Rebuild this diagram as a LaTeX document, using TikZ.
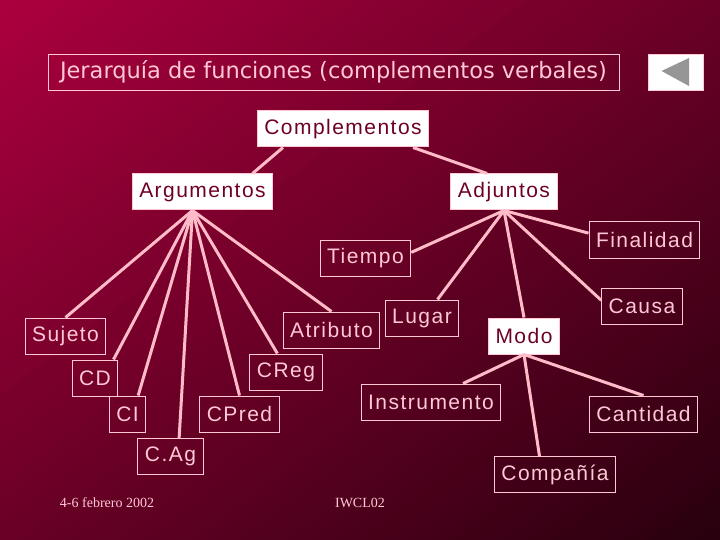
\documentclass[tikz,border=0pt]{standalone}
\usepackage{fontspec}
\setmainfont{Liberation Serif}
\newfontfamily\boxfont[LetterSpace=7]{Liberation Sans}
\newfontfamily\titlefont{DejaVu Sans}
\usetikzlibrary{positioning}
\definecolor{slidetop}{RGB}{172,0,62}
\definecolor{slidebot}{RGB}{40,0,14}
\definecolor{slidepink}{RGB}{255,200,212}
\definecolor{slideline}{RGB}{255,188,200}
\definecolor{slidewine}{RGB}{110,0,40}
\definecolor{slidegray}{RGB}{150,150,150}

\begin{document}
\begin{tikzpicture}[
  x=1pt,y=-1pt,
  leaf/.style={draw=slidepink,line width=1pt,text=slidepink,font=\boxfont\fontsize{21}{24}\selectfont,minimum height=36pt,inner xsep=7pt,inner ysep=0pt},
  head/.style={leaf,fill=white,text=slidewine},
  link/.style={draw=slideline,line width=3pt},
  foot/.style={text=slidepink,font=\fontsize{14}{16}\selectfont}
]
\useasboundingbox (0,0) rectangle (720,540);
% diagonal background
\begin{scope}
\clip (0,0) rectangle (720,540);
\foreach \i in {0,...,59} {
  \pgfmathsetmacro\sa{\i/30}
  \pgfmathsetmacro\sb{(\i+1.3)/30}
  \pgfmathsetmacro\tint{100-100*(\i+0.5)/60}
  \fill[slidetop!\tint!slidebot] ({720*(\sa+2)},-1080) -- ({720*(\sa-2)},1080) -- ({720*(\sb-2)},1080) -- ({720*(\sb+2)},-1080) -- cycle;
}
\end{scope}
% title and back button
\node[draw=slidepink,text=slidepink,minimum width=571pt,minimum height=36pt,font=\titlefont\fontsize{22.5}{26}\selectfont] (title) at (333.5,72) {Jerarquía de funciones (complementos verbales)};
\node[fill=white,draw=slidepink,minimum width=55pt,minimum height=36pt] (back) at (675.5,72) {};
\fill[slidegray] ([xshift=-14pt,yshift=1pt]back.center) -- ([xshift=13.5pt,yshift=14pt]back.center) -- ([xshift=13.5pt,yshift=-14pt]back.center) -- cycle;
% tree
\node[head] (compl) at (343,129) {Complementos};
\node[head] (arg) at (202.5,192) {Argumentos};
\node[head] (adj) at (504,192) {Adjuntos};
\node[head] (modo) at (524,336) {Modo};
\node[leaf] (sujeto) at (65.5,336) {Sujeto};
\node[leaf] (cd) at (95,378) {CD};
\node[leaf] (ci) at (127.5,414) {CI};
\node[leaf] (cag) at (170.5,456.5) {C.Ag};
\node[leaf] (cpred) at (239.5,414) {CPred};
\node[leaf] (creg) at (286,372) {CReg};
\node[leaf] (atrib) at (331.5,330) {Atributo};
\node[leaf] (tiempo) at (365.5,258) {Tiempo};
\node[leaf] (lugar) at (422,318) {Lugar};
\node[leaf] (fin) at (644.5,240) {Finalidad};
\node[leaf] (causa) at (642,306) {Causa};
\node[leaf] (instr) at (431,402) {Instrumento};
\node[leaf] (cant) at (643.5,414) {Cantidad};
\node[leaf] (comp) at (555,474.5) {Compañía};
\coordinate (argfoot) at ([xshift=-10pt]arg.south);
\draw[link] ([xshift=-60pt]compl.south) -- ([xshift=50pt]arg.north);
\draw[link] ([xshift=70pt]compl.south) -- ([xshift=-17pt]adj.north);
\foreach \kid in {sujeto.north,cd.45,ci.60,cag.65,cpred.north,creg.115,atrib.north}
  \draw[link] (argfoot) -- (\kid);
\foreach \kid in {tiempo.7,lugar.50,modo.north,causa.172,fin.173}
  \draw[link] (adj.south) -- (\kid);
\foreach \kid in {instr.30,comp.130,cant.north}
  \draw[link] (modo.south) -- (\kid);
% footer
\node[foot] (fecha) at (107,503) {4-6 febrero 2002};
\node[foot] (evento) at (360,503) {IWCL02};
\end{tikzpicture}
\end{document}
